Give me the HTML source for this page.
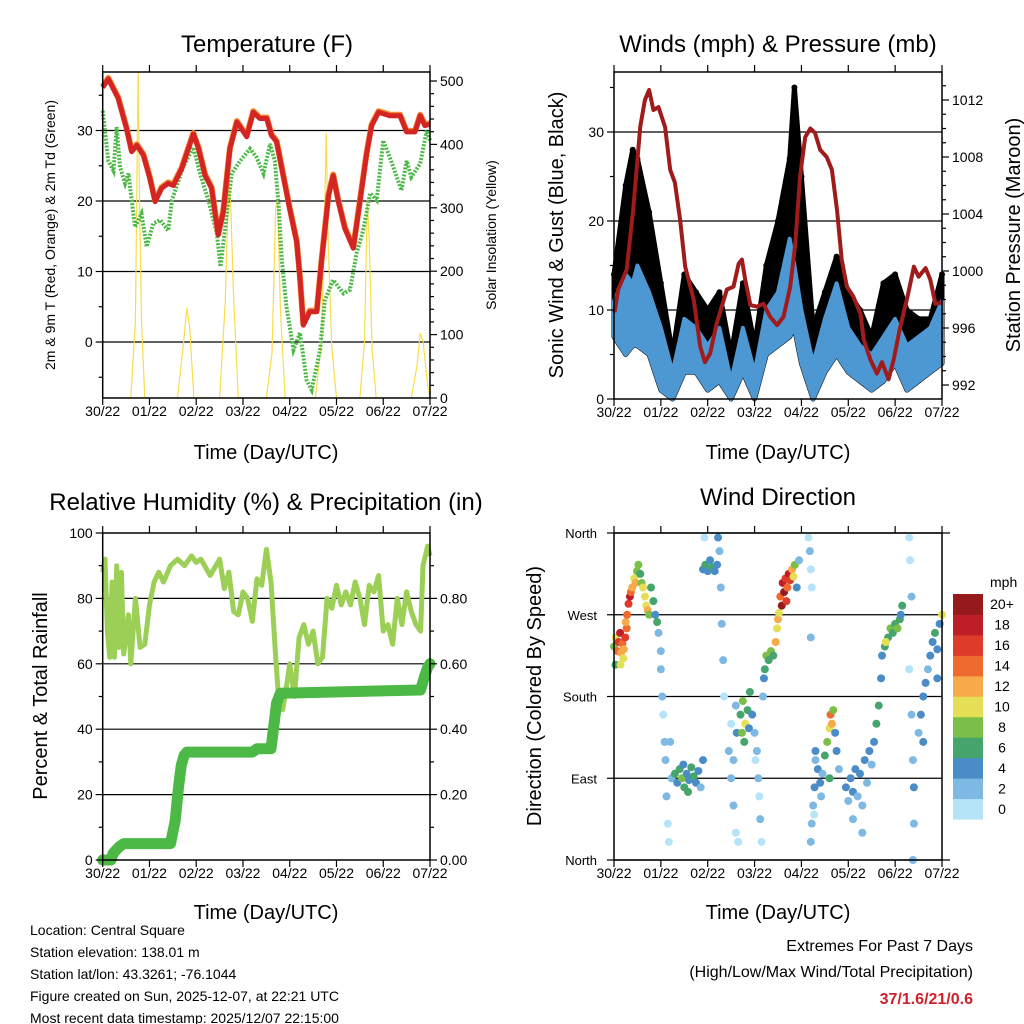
<!DOCTYPE html>
<html><head><meta charset="utf-8"><style>
html,body{margin:0;padding:0;background:#fff;}
svg{display:block;font-family:"Liberation Sans",sans-serif;}
</style></head><body>
<svg id="c" width="1024" height="1024" viewBox="0 0 1024 1024" xmlns="http://www.w3.org/2000/svg">
<g id="layer"></g>
<text x="267" y="52" font-size="24" text-anchor="middle">Temperature (F)</text>
<text x="778" y="52" font-size="24" text-anchor="middle">Winds (mph) &amp; Pressure (mb)</text>
<text x="266" y="510" font-size="24" text-anchor="middle">Relative Humidity (%) &amp; Precipitation (in)</text>
<text x="778" y="505" font-size="24" text-anchor="middle">Wind Direction</text>
<text x="266" y="459" font-size="20" text-anchor="middle">Time (Day/UTC)</text>
<text x="778" y="459" font-size="20" text-anchor="middle">Time (Day/UTC)</text>
<text x="266" y="919" font-size="20" text-anchor="middle">Time (Day/UTC)</text>
<text x="778" y="919" font-size="20" text-anchor="middle">Time (Day/UTC)</text>
<text transform="translate(55,235) rotate(-90)" font-size="14" text-anchor="middle">2m &amp; 9m T (Red, Orange) &amp; 2m Td (Green)</text>
<text transform="translate(496,235) rotate(-90)" font-size="14" text-anchor="middle">Solar Insolation (Yellow)</text>
<text transform="translate(563,235) rotate(-90)" font-size="20" text-anchor="middle">Sonic Wind &amp; Gust (Blue, Black)</text>
<text transform="translate(1020,235) rotate(-90)" font-size="20" text-anchor="middle">Station Pressure (Maroon)</text>
<text transform="translate(47,696) rotate(-90)" font-size="20" text-anchor="middle">Percent &amp; Total Rainfall</text>
<text transform="translate(541,696) rotate(-90)" font-size="20" text-anchor="middle">Direction (Colored By Speed)</text>
<g font-size="14">
<text x="30" y="935">Location: Central Square</text>
<text x="30" y="957">Station elevation: 138.01 m</text>
<text x="30" y="979">Station lat/lon: 43.3261; -76.1044</text>
<text x="30" y="1001">Figure created on Sun, 2025-12-07, at 22:21 UTC</text>
<text x="30" y="1023">Most recent data timestamp: 2025/12/07 22:15:00</text>
</g>
<g font-size="16" text-anchor="end">
<text x="973" y="951">Extremes For Past 7 Days</text>
<text x="973" y="977">(High/Low/Max Wind/Total Precipitation)</text>
<text x="973" y="1004" fill="#d0202a" font-weight="bold">37/1.6/21/0.6</text>
</g>
</svg>
<script>
const dayLabels=["30/22","01/22","02/22","03/22","04/22","05/22","06/22","07/22"];
const tT=[0,0.12,0.33,0.51,0.62,0.73,0.87,1.01,1.12,1.26,1.4,1.51,1.69,1.83,1.94,2.05,2.19,2.33,2.47,2.58,2.72,2.87,3.08,3.22,3.36,3.51,3.61,3.72,3.86,4.0,4.15,4.22,4.29,4.43,4.58,4.68,4.83,4.93,5.04,5.18,5.36,5.5,5.64,5.75,5.9,6.14,6.36,6.5,6.68,6.79,6.89,7.0];
const tempF=[36.1,37.3,34.6,30.3,27.0,27.9,26.5,23.2,19.9,21.8,22.5,22.2,24.6,27.4,29.5,27.4,23.6,21.8,15.2,18.5,27.4,31.2,29.1,32.6,31.7,31.7,29.3,28.4,23.6,18.9,14.2,9.0,2.4,4.3,4.3,11.4,20.8,23.6,19.9,16.1,13.3,19.9,26.5,30.7,32.6,32.1,32.1,29.8,29.8,32.1,30.7,30.9];
const tdT=[0,0.12,0.23,0.3,0.37,0.48,0.55,0.62,0.69,0.83,0.94,1.08,1.23,1.4,1.48,1.72,1.94,2.08,2.26,2.44,2.52,2.62,2.76,2.94,3.15,3.29,3.44,3.58,3.68,3.76,3.83,3.93,4.08,4.22,4.36,4.47,4.65,4.75,4.93,5.15,5.29,5.43,5.57,5.72,5.86,6.0,6.14,6.39,6.5,6.6,6.79,6.93,7.0];
const dewF=[32.8,25.7,24.3,30.5,24.8,22.5,23.9,20.1,16.3,18.2,13.5,16.8,17.3,15.8,20.1,24.8,27.6,23.9,20.1,15.4,10.7,16.3,23.9,25.7,27.4,26.2,23.9,28.1,25.7,19.6,11.6,5.0,-1.1,1.3,-5.4,-6.8,-1.1,5.9,8.8,6.9,7.4,12.6,15.8,21.1,20.1,28.6,26.2,21.5,25.7,23.4,25.3,30.0,28.6];
const solT=[0,0.6,0.7,0.74,0.76,0.79,0.83,0.9,1.6,1.72,1.8,1.86,1.95,2.5,2.62,2.7,2.74,2.8,2.9,3.5,3.62,3.7,3.74,3.8,3.9,4.55,4.68,4.75,4.78,4.82,4.9,5.0,5.5,5.6,5.66,5.7,5.76,5.85,6.6,6.72,6.79,6.85,6.95,7.0];
const solV=[0,0,120,400,520,300,120,0,0,80,142,110,0,0,150,350,300,160,0,0,70,300,312,140,0,0,90,300,418,250,80,0,0,90,312,250,80,0,0,50,102,90,20,0];
const windT=[0,0.25,0.4,0.5,0.75,1.0,1.25,1.5,1.75,2.0,2.25,2.5,2.75,3.0,3.25,3.5,3.75,3.85,4.0,4.25,4.5,4.75,5.0,5.25,5.5,5.75,6.0,6.25,6.5,6.75,7.0];
const windLo=[7,5,6,6,5,1,0,3,3,1,2,0,3,0,5,6,7,8,4,0,3,5,3,2,1,2,4,1,2,3,4];
const windHi=[11,14,13,15,12,8,3,9,8,6,8,2,8,3,10,12,18,15,10,4,9,13,8,6,5,7,9,6,7,8,11];
const gustHi=[14,24,28,27,21,13,5,14,12,10,12,5,13,6,15,20,27,35,25,8,12,16,12,10,7,13,14,10,9,9,14];
const presT=[0.01,0.09,0.27,0.41,0.56,0.66,0.75,0.84,0.95,1.09,1.2,1.3,1.41,1.52,1.7,1.84,1.94,2.05,2.19,2.41,2.55,2.66,2.73,2.8,2.91,3.05,3.19,3.33,3.48,3.62,3.76,3.87,3.97,4.08,4.19,4.29,4.4,4.54,4.65,4.76,4.86,4.97,5.11,5.26,5.33,5.47,5.61,5.72,5.86,5.97,6.11,6.25,6.4,6.5,6.65,6.75,6.86,7.0];
const presMb=[997.1,998.7,1000.1,1004.3,1010.1,1012.0,1012.7,1011.3,1011.5,1010.1,1007.1,1006.2,1003.6,1000.3,998.0,994.7,993.6,994.2,996.3,998.7,998.9,1000.5,1000.8,999.4,997.6,997.5,997.7,996.8,996.2,996.8,998.9,1001.9,1006.6,1009.4,1010.0,1009.7,1008.5,1008.0,1007.1,1004.3,1000.8,998.9,998.2,997.0,995.2,993.8,992.8,993.6,992.4,993.8,996.1,998.0,1000.3,999.6,1000.2,999.4,997.7,997.8];
const rhT=[0,0.05,0.1,0.15,0.2,0.25,0.3,0.35,0.4,0.45,0.55,0.6,0.7,0.8,0.9,1.0,1.1,1.2,1.3,1.45,1.6,1.75,1.9,2.0,2.1,2.3,2.5,2.6,2.7,2.8,2.9,3.0,3.1,3.2,3.3,3.4,3.5,3.6,3.7,3.75,3.85,3.95,4.0,4.1,4.2,4.3,4.4,4.5,4.6,4.7,4.8,4.9,5.0,5.1,5.2,5.3,5.4,5.5,5.6,5.7,5.8,5.9,6.0,6.1,6.2,6.3,6.4,6.5,6.6,6.7,6.8,6.85,6.95,7.0];
const rhPct=[88,92,70,62,85,62,90,65,88,63,75,60,80,65,66,78,85,88,85,90,92,90,93,91,92,87,92,83,88,76,75,82,80,73,86,84,95,85,62,52,46,55,60,50,68,72,66,70,60,62,80,77,84,78,82,78,85,80,72,84,82,87,70,72,66,80,72,82,76,72,70,90,96,93];
const prT=[0,0.18,0.22,0.35,0.45,1.45,1.55,1.62,1.68,1.74,1.8,3.2,3.3,3.6,3.65,3.72,3.8,6.8,6.88,6.95,7.0];
const prIn=[0,0,0.02,0.04,0.05,0.05,0.12,0.22,0.29,0.32,0.33,0.33,0.34,0.34,0.40,0.48,0.51,0.52,0.56,0.59,0.60];
const dirT=[0,0.04,0.07,0.1,0.13,0.15,0.18,0.21,0.24,0.27,0.03,0.14,0.2,0.25,0.28,0.31,0.34,0.36,0.39,0.43,0.46,0.49,0.52,0.56,0.59,0.62,0.66,0.69,0.72,0.75,0.79,0.84,0.88,0.92,0.95,1.0,1.0,1.03,1.05,1.08,1.1,1.12,1.15,1.17,1.2,1.23,1.3,1.35,1.4,1.45,1.5,1.55,1.6,1.65,1.7,1.75,1.8,1.85,1.9,1.48,1.58,1.9,1.95,2.0,2.05,2.1,2.15,2.2,2.25,2.28,2.3,2.33,2.35,1.93,2.22,2.45,2.5,2.55,2.6,2.5,2.55,2.62,2.65,2.6,2.7,2.75,2.8,2.85,2.9,2.73,2.78,2.88,2.95,3.0,3.05,3.08,3.1,3.12,3.15,3.02,3.18,3.2,3.22,3.25,3.3,3.35,3.4,3.45,3.48,3.5,3.52,3.55,3.6,3.63,3.66,3.7,3.73,3.76,3.8,3.83,3.86,3.58,3.68,3.9,3.95,4.15,4.18,4.2,4.22,4.2,4.2,4.22,4.25,4.28,4.3,4.27,4.3,4.35,4.4,4.45,4.5,4.55,4.6,4.62,4.65,4.68,4.72,4.75,4.8,4.42,4.6,4.95,5.0,5.05,5.1,5.15,5.2,5.25,5.3,5.35,5.4,5.45,5.5,5.1,5.3,5.55,5.6,5.65,5.7,5.72,5.78,5.85,5.9,5.95,6.0,6.05,6.1,6.15,6.12,5.8,6.3,6.32,6.35,6.3,6.35,6.38,6.4,6.4,6.38,6.5,6.55,6.6,6.65,6.7,6.75,6.8,6.85,6.9,6.95,7.0,6.6,6.9];
const dirDeg=[235,245,230,240,250,228,238,232,245,255,215,215,222,262,270,282,290,295,300,310,305,318,325,315,305,300,290,280,275,270,300,285,270,262,250,230,210,180,160,130,110,70,40,20,130,90,95,85,100,90,80,95,88,102,92,85,98,80,110,105,75,320,325,318,330,322,318,325,340,300,260,220,180,355,355,120,90,60,30,150,110,140,20,170,160,175,150,165,185,140,130,145,160,140,120,90,70,45,20,110,180,200,210,225,220,230,225,240,255,265,272,290,305,295,310,300,315,308,320,312,325,280,285,300,330,355,340,320,300,245,20,40,60,80,110,50,120,100,85,95,115,130,145,160,150,165,140,120,100,70,90,80,65,90,75,100,70,95,60,110,85,120,105,45,30,130,150,170,200,225,235,245,255,250,260,255,265,280,270,240,355,330,290,210,160,110,80,40,0,140,160,180,195,210,225,240,250,232,260,270,130,200];
const dirSpd=[8,10,14,16,18,12,15,12,16,14,6,10,10,12,14,16,18,14,12,10,12,8,8,7,9,10,11,10,12,8,7,6,5,6,3,2,3,2,1,2,3,2,1,0,3,2,6,5,7,8,6,5,4,6,7,5,4,3,4,4,6,4,6,5,4,6,5,4,3,3,2,2,1,0,4,2,3,2,0,1,2,4,1,2,6,8,10,7,6,9,6,4,4,2,3,2,1,3,1,1,3,4,6,8,6,8,7,12,10,12,11,14,18,20,16,14,18,16,12,10,8,20,17,4,2,1,2,1,1,2,2,3,2,4,3,1,4,5,4,3,6,8,10,14,12,9,4,4,3,2,7,4,3,4,5,4,3,4,2,4,3,4,3,2,3,4,6,7,4,5,6,6,8,7,6,8,7,6,5,10,1,1,2,1,2,3,4,2,2,3,4,4,4,3,5,5,6,5,5,10,5,4];
const speedLabels=["0","2","4","6","8","10","12","14","16","18","20+"];
const speedColors=["#b5e3f8","#7db9e3","#4a8dc6","#46a56c","#7bbf48","#e5df55","#f6aa4a","#ee6a2e","#de3b2a","#bd1e28","#961a1c"];

const NS="http://www.w3.org/2000/svg";
const layer=document.getElementById('layer');
function mk(tag,attrs,parent){const e=document.createElementNS(NS,tag);for(const k in attrs)e.setAttribute(k,attrs[k]);(parent||layer).appendChild(e);return e;}
function lin(d0,d1,r0,r1){return v=>r0+(v-d0)*(r1-r0)/(d1-d0);}
function pts(xs,ys,fx,fy){return xs.map((x,i)=>fx(x).toFixed(1)+','+fy(ys[i]).toFixed(1)).join(' ');}

function frame(L,R,T,B,name){
  const g=mk('g',{});
  
  
  mk('rect',{x:L,y:T,width:R-L,height:B-T,fill:'none',stroke:'#000','stroke-width':1.5},g);
  const fx=lin(0,7,L,R);
  dayLabels.forEach((lab,i)=>{
    const x=fx(i);
    mk('line',{x1:x,y1:B,x2:x,y2:B+7,stroke:'#000','stroke-width':1.2},g);
    mk('line',{x1:x,y1:T,x2:x,y2:T-7,stroke:'#000','stroke-width':1.2},g);
    const t=mk('text',{x:x,y:B+18,'font-size':14,'text-anchor':'middle'},g);
    t.textContent=lab;
    
    
  });
  return fx;
}
function yTicks(fy,vals,labels,x,side,major,g){
  vals.forEach((v,i)=>{
    const y=fy(v);
    const d=side==='left'?-1:1;
    mk('line',{x1:x,y1:y,x2:x+d*(major?7:4),y2:y,stroke:'#000','stroke-width':1.2});
    if(labels&&labels[i]!==''){
      const t=mk('text',{x:x+d*10,y:y+5,'font-size':14,'text-anchor':side==='left'?'end':'start'});
      t.textContent=labels[i];
      
      
    }
  });
}
function grid(fy,vals,L,R){vals.forEach(v=>mk('line',{x1:L,y1:fy(v),x2:R,y2:fy(v),stroke:'#000','stroke-width':1.2}));}

// ===== Panel 1: Temperature =====
(function(){
  const L=102.7,R=430,T=72,B=398;
  const fx=lin(0,7,L,R), fy=lin(0,10,342,271.5), fs=lin(0,500,398,81);
  const clip=mk('clipPath',{id:'cp1'});mk('rect',{x:L,y:T,width:R-L,height:B-T},clip);
  grid(fy,[0,10,20,30],L,R);
  const sol=mk('polyline',{points:pts(solT,solV,fx,fs),fill:'none',stroke:'#f7dd4a','stroke-width':1.2,'clip-path':'url(#cp1)'});
  
  
  const td=mk('polyline',{points:pts(tdT,dewF,fx,fy),fill:'none',stroke:'#4cb846','stroke-width':4,'stroke-dasharray':'2 1.5'});
  
  
  const t9=mk('polyline',{points:pts(tT,tempF,fx,v=>fy(v)-1),fill:'none',stroke:'#f08a30','stroke-width':6,'stroke-linejoin':'round'});
  
  
  const t2=mk('polyline',{points:pts(tT,tempF,fx,fy),fill:'none',stroke:'#d42424','stroke-width':5,'stroke-linejoin':'round'});
  
  
  frame(L,R,T,B,'temperature');
  yTicks(fy,[0,10,20,30],['0','10','20','30'],L,'left',true);
  yTicks(fy,[-5,5,15,25,35],null,L,'left',false);
  yTicks(fs,[0,100,200,300,400,500],['0','100','200','300','400','500'],R,'right',true);
  yTicks(fs,[20,40,60,80,120,140,160,180,220,240,260,280,320,340,360,380,420,440,460,480],null,R,'right',false);
})();

// ===== Panel 2: Winds & Pressure =====
(function(){
  const L=614,R=942,T=72,B=399;
  const fx=lin(0,7,L,R), fy=lin(0,10,399,310), fp=lin(992,996,385,328);
  grid(fy,[10,20,30],L,R);
  const gx=windT.map(fx);
  let gpath=gx.map((x,i)=>x.toFixed(1)+','+fy(gustHi[i]).toFixed(1)).join(' ')+' '+gx.slice().reverse().map((x,j)=>x.toFixed(1)+','+fy(windLo[windLo.length-1-j]).toFixed(1)).join(' ');
  const gust=mk('polygon',{points:gpath,fill:'#000',stroke:'#000','stroke-width':5,'stroke-linejoin':'round'});
  
  
  windT.forEach((t,i)=>{
    const d=mk('circle',{cx:fx(t),cy:fy(gustHi[i]),r:3,fill:'#000'});
    
    
  });
  let wpath=gx.map((x,i)=>x.toFixed(1)+','+fy(windHi[i]).toFixed(1)).join(' ')+' '+gx.slice().reverse().map((x,j)=>x.toFixed(1)+','+fy(windLo[windLo.length-1-j]).toFixed(1)).join(' ');
  const wind=mk('polygon',{points:wpath,fill:'#4d97d3',stroke:'#4d97d3','stroke-width':4,'stroke-linejoin':'round'});
  
  
  const pr=mk('polyline',{points:pts(presT,presMb,fx,fp),fill:'none',stroke:'#a01c1c','stroke-width':4,'stroke-linejoin':'round'});
  
  
  frame(L,R,T,B,'winds');
  yTicks(fy,[0,10,20,30],['0','10','20','30'],L,'left',true);
  yTicks(fy,[5,15,25,35],null,L,'left',false);
  yTicks(fp,[992,996,1000,1004,1008,1012],['992','996','1000','1004','1008','1012'],R,'right',true);
  yTicks(fp,[993,994,995,997,998,999,1001,1002,1003,1005,1006,1007,1009,1010,1011,1013],null,R,'right',false);
})();

// ===== Panel 3: RH & Precip =====
(function(){
  const L=102.7,R=430,T=533,B=860;
  const fx=lin(0,7,L,R), fy=lin(0,100,860,533), fr=lin(0,1,860,533);
  grid(fy,[20,40,60,80],L,R);
  const rh=mk('polyline',{points:pts(rhT,rhPct,fx,fy),fill:'none',stroke:'#9ccf55','stroke-width':5,'stroke-linejoin':'round'});
  
  
  const pr=mk('polyline',{points:pts(prT,prIn,fx,fr),fill:'none',stroke:'#4cb846','stroke-width':11,'stroke-linejoin':'round','stroke-linecap':'round'});
  
  
  frame(L,R,T,B,'humidity');
  yTicks(fy,[0,20,40,60,80,100],['0','20','40','60','80','100'],L,'left',true);
  yTicks(fy,[10,30,50,70,90],null,L,'left',false);
  yTicks(fr,[0,0.2,0.4,0.6,0.8],['0.00','0.20','0.40','0.60','0.80'],R,'right',true);
  yTicks(fr,[0.1,0.3,0.5,0.7,0.9],null,R,'right',false);
})();

// ===== Panel 4: Wind Direction =====
(function(){
  const L=614,R=942,T=533,B=860;
  const fx=lin(0,7,L,R), fy=lin(0,360,860,533);
  grid(fy,[90,180,270],L,R);
  [0,360].forEach(v=>mk('line',{x1:L,y1:fy(v),x2:R+8,y2:fy(v),stroke:'#000','stroke-width':1.2}));
  dirT.forEach((t,i)=>{
    const b=Math.min(10,Math.floor(dirSpd[i]/2));
    const c=mk('circle',{cx:fx(t),cy:fy(dirDeg[i]),r:4,fill:speedColors[b]});
    
    
  });
  frame(L,R,T,B,'wind-direction');
  const dl=['North','East','South','West','North'];
  [0,90,180,270,360].forEach((v,i)=>{
    mk('line',{x1:L,y1:fy(v),x2:L-7,y2:fy(v),stroke:'#000','stroke-width':1.2});
    const t=mk('text',{x:L-17,y:fy(v)+5,'font-size':13,'text-anchor':'end'});
    t.textContent=dl[i];
    
    
  });
  const cb=mk('g',{});
  
  
  const h=(819-594)/11;
  speedColors.forEach((c,i)=>{
    const y=819-(i+1)*h;
    mk('rect',{x:953,y:y,width:30,height:h+0.5,fill:c},cb);
    const t=mk('text',{x:1002,y:y+h/2+5,'font-size':14,'text-anchor':'middle'},cb);
    t.textContent=speedLabels[i];
    
    
  });
  const m=mk('text',{x:990,y:587,'font-size':14},cb);
  m.textContent='mph';
  
  
})();
</script>
</body></html>
